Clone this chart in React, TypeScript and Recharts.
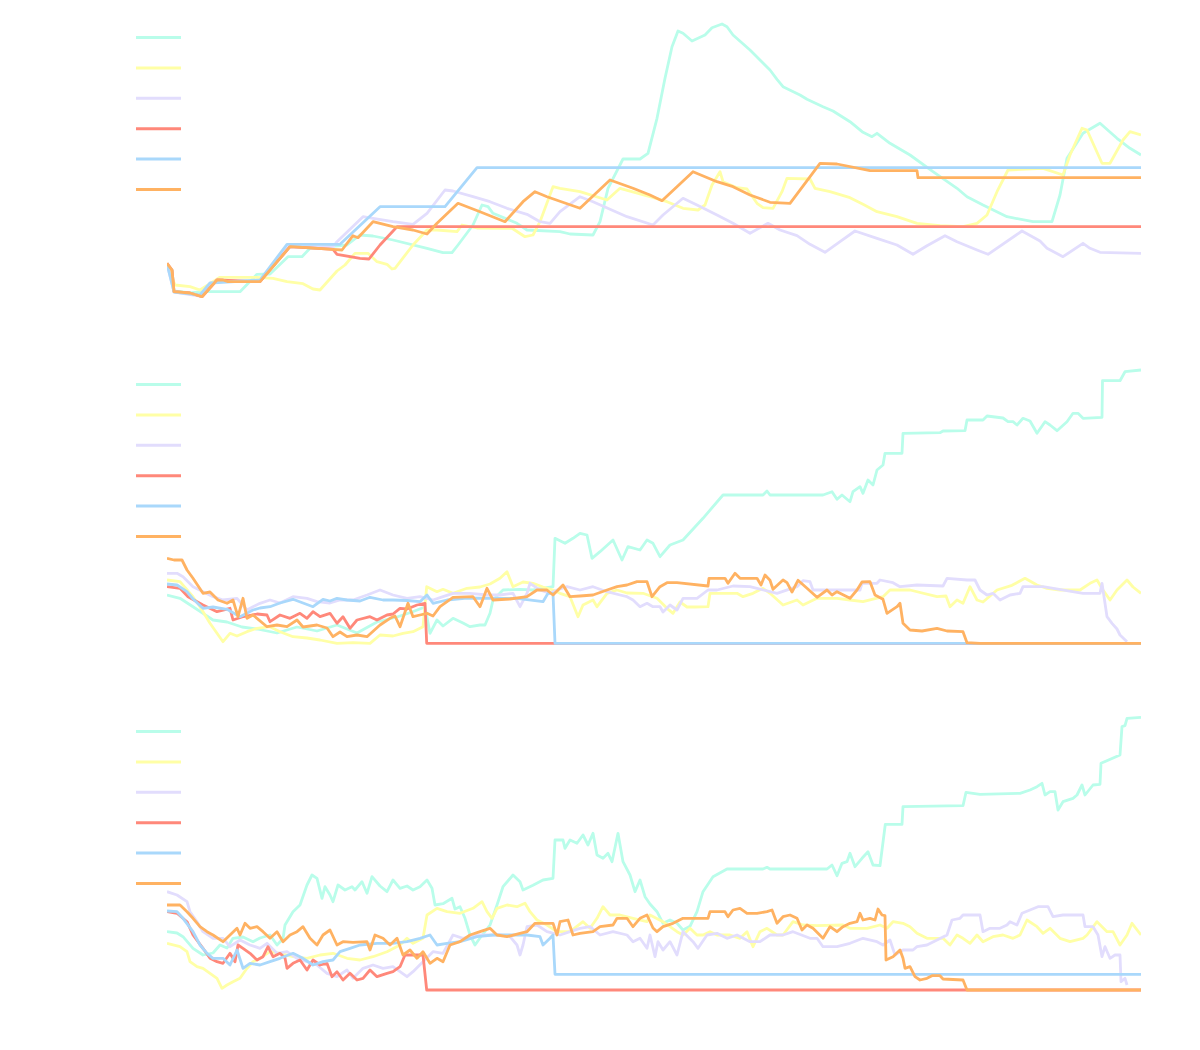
import React from "react";
import { LineChart, Line, XAxis, YAxis, Legend } from "recharts";

type Pt = [number, number];

const seriesNames = ["Series A", "Series B", "Series C", "Series D", "Series E", "Series F"];
const seriesColors = ["#b9fdea", "#ffffa6", "#e2ddfd", "#ff887a", "#a9d8fb", "#ffb262"];
const stepDomain: [number, number] = [0, 974];
const valueDomain: [number, number] = [0, 280];

// ---------- Panel 1 ----------
const p1Cyan: Pt[] = [[0,35],[5,30],[7,9],[23,7],[36,8.3],[46,8.3],[73,8.3],[90,25.7],[103,26],[121,43.3],[135,43.3],[143,51.7],[180,55],[193,65],[206,64],[226,60],[260,51.7],[276,47.3],[285,47.3],[291,55],[306,75],[315,95],[321,93.3],[326,86.7],[350,76.7],[360,70],[393,68.3],[403,66],[426,65],[433,78.3],[441,111.7],[456,141],[473,141],[481,146.7],[490,181.7],[498,221.7],[505,253.3],[511,269],[516,266.7],[525,259],[538,265],[545,272.3],[555,276],[560,273.3],[566,265],[583,250],[603,230],[610,220.7],[616,213.3],[633,205],[640,200.7],[656,193.3],[666,189],[683,178.3],[696,167.7],[705,163.3],[710,166.7],[723,156.7],[743,145],[766,128.3],[790,111.7],[800,103.3],[816,95],[840,83.3],[866,78.3],[885,78.3],[893,105],[900,141.7],[916,166.7],[933,176.7],[950,161.7],[963,151.7],[974,145]];
const p1Yellow: Pt[] = [[0,35],[8,15],[23,13.3],[33,10],[53,22.7],[90,22.7],[106,21.7],[120,18.3],[136,16.3],[146,11],[153,10],[170,29],[178,35],[188,46.7],[201,46.7],[210,38.3],[220,35.7],[225,31],[228,31.7],[246,55],[260,70],[270,70],[290,68.3],[295,75],[310,72],[345,71.7],[358,63.3],[366,65],[373,78.3],[386,113.3],[393,111.7],[413,108.3],[440,100],[453,111.7],[483,103.3],[500,98.3],[516,91.7],[531,90],[538,95],[545,115],[553,128.3],[556,118.3],[570,112.3],[580,111],[590,96.7],[596,92.3],[606,91.7],[615,108.3],[620,121.7],[643,121],[648,111.7],[663,108.3],[683,102.3],[696,95.7],[710,88.3],[730,83.3],[750,76.7],[773,74.3],[796,73.3],[810,76.7],[820,85],[830,108.3],[841,130],[876,131.7],[896,125],[903,145],[915,171.7],[920,170],[935,136.7],[943,136.7],[956,160],[963,168.3],[974,165]];
const p1Lavender: Pt[] = [[0,36],[7,8],[33,4],[50,20],[93,18.5],[120,53],[166,53],[170,58.3],[196,83.3],[206,81.7],[226,78.3],[246,75.7],[260,86.7],[278,110],[286,109],[306,103.3],[323,98.3],[340,91.7],[360,85.7],[373,78.3],[383,76.7],[393,88.3],[413,103.3],[426,98.3],[460,83.3],[486,75],[496,85],[516,101.7],[530,95],[550,85],[566,76.7],[583,66.7],[601,76.7],[613,70],[630,64.3],[643,55.7],[658,47.7],[673,58.3],[688,69],[710,61.7],[730,55],[746,45.7],[760,54.3],[778,64.3],[790,58.3],[810,50],[821,45.7],[855,69],[873,59],[880,51.7],[896,43.3],[916,56.7],[923,51.7],[933,47.7],[974,46.7]];
const p1Red: Pt[] = [[0,36.7],[5,30],[7,8.3],[23,7],[35,3.3],[50,20],[93,18.3],[123,53.3],[166,50.7],[170,45.7],[193,41.7],[202,41],[213,55],[230,73.3],[974,73.3]];
const p1Blue: Pt[] = [[0,36],[7,8],[33,5],[43,17],[93,20],[120,55.7],[173,55.7],[213,93.3],[278,93.3],[310,132.3],[974,132.3]];
const p1Orange: Pt[] = [[0,36.7],[5,30],[7,8.3],[23,7],[35,3.3],[50,20],[56,20],[61,18.3],[93,18.3],[123,53.3],[140,52.3],[166,50.7],[175,50],[186,64.3],[191,62.3],[206,78.3],[226,73.3],[246,70],[260,66],[270,76.7],[291,96.7],[313,88.3],[338,78.3],[356,98.3],[368,108.3],[380,103.3],[413,91.7],[443,120],[466,111.7],[483,105],[495,99.3],[526,128.3],[550,118.3],[566,113.3],[583,105],[603,97.7],[623,96.7],[653,136.7],[670,136],[703,129.3],[750,129.3],[751,122.3],[974,122.3]];

// ---------- Panel 2 ----------
const p2Cyan: Pt[] = [[0,52],[13,48.7],[26,40.3],[36,33.7],[46,27],[60,25],[75,20],[90,18],[110,14],[130,20],[150,16],[170,22],[190,14],[210,25],[230,30],[245,35],[258,40],[263,13.7],[270,27],[276,21],[286,28.7],[296,24],[303,20.3],[313,22],[318,22],[323,33.7],[326,47],[336,57],[353,57.7],[366,57],[386,60.3],[388,108.7],[398,103.7],[406,108.7],[413,113.7],[420,112],[425,88.7],[433,95.3],[446,107],[455,87],[461,100.3],[473,97],[480,107],[486,103.7],[493,90.3],[503,102],[516,107],[536,128.7],[556,152],[596,152],[600,156],[603,152],[656,152],[665,155.3],[670,147.7],[675,152],[683,145.3],[686,155.3],[693,160.3],[696,153.7],[701,167],[706,162],[710,177],[716,182],[718,193.7],[735,193.7],[736,213.7],[773,214.3],[776,216],[798,216.3],[800,227],[816,227],[820,231],[836,229],[841,225.3],[846,225.3],[850,222],[856,228.7],[863,226],[870,213.7],[878,225.3],[883,222],[890,216.3],[900,225.3],[906,233.7],[911,233.7],[916,228.7],[935,229.7],[935.5,266.3],[953,266.3],[958,275.3],[974,277]];
const p2Yellow: Pt[] = [[0,67],[13,65.3],[26,50.3],[33,40.3],[43,23.7],[50,13.7],[56,5.3],[63,13.7],[70,11],[80,15.3],[90,18.7],[103,20.3],[113,15.3],[126,10.3],[140,9],[153,7],[170,3.7],[186,4.3],[203,3.7],[213,12],[226,11],[236,13.7],[246,15.3],[256,20.3],[259.7,60.3],[270,55.3],[276,57.7],[286,53.7],[300,58.7],[313,60],[323,63],[333,68.7],[340,75.3],[346,60.3],[356,65],[366,63.7],[376,60],[386,57],[393,53.7],[403,50.3],[411,30.3],[416,42],[426,47],[430,40.3],[440,53.7],[450,57],[460,54],[476,53.7],[490,48.7],[500,38.7],[506,33.7],[513,45],[520,40],[528,40],[541,40.3],[543,53.7],[570,53.7],[576,50.3],[586,53.7],[596,58.7],[603,53.7],[616,42],[630,47],[636,42],[650,48.7],[670,48.7],[683,47],[696,45.3],[716,50.3],[723,57],[743,57],[770,50.3],[779,51],[783,40.3],[790,47],[796,43.7],[803,60.3],[810,47],[816,45],[830,57],[845,61.7],[858,68.7],[870,62],[880,58.7],[893,57],[913,57],[923,63.7],[930,67],[936,57],[943,47],[950,57],[960,67],[966,60],[974,53.7]];
const p2Lavender: Pt[] = [[0,73.7],[10,73.7],[16,70.3],[26,60.3],[36,55.3],[46,50.3],[56,47],[70,48.7],[80,37],[86,40.3],[93,43.7],[103,47],[113,44],[126,50.3],[140,48.7],[150,45.3],[163,44],[173,47],[186,47],[200,52],[213,57],[226,52],[240,48.7],[253,50.3],[266,47],[276,50.3],[286,53.7],[303,53.7],[320,52],[333,52],[346,53.7],[353,40.3],[360,53.7],[363,63.7],[373,57],[383,53.7],[390,57],[400,60.3],[413,57],[426,60.3],[440,55.3],[453,52],[460,50.3],[466,47],[473,40.3],[480,43.7],[486,40.3],[493,40.3],[496,35],[503,42],[510,37],[516,48.7],[530,48.7],[541,57],[550,57],[566,61],[583,60.3],[610,53.7],[630,60.3],[636,66.3],[643,65.3],[646,57],[693,57],[695,63.7],[710,63.7],[713,67],[726,64.3],[733,60.3],[750,62],[776,61],[780,68.7],[800,67],[808,67],[813,57],[820,52],[826,53.7],[833,47],[843,52],[853,53.7],[856,60.3],[876,60.3],[916,53.7],[933,53.7],[935,63.7],[940,30.3],[945,23.7],[950,18],[953,12],[960,5.3]];
const p2Red: Pt[] = [[0,60.3],[13,58.7],[21,50.3],[36,42],[50,35.3],[63,38.7],[66,27],[75,30],[90,33],[100,32],[103,25.3],[113,32],[123,28.7],[133,33.7],[140,28.7],[146,35.3],[153,30.3],[163,33.7],[170,23.7],[176,30.3],[183,18.7],[190,27],[203,30.3],[210,27],[220,32],[226,33],[233,38.7],[240,38],[250,42],[258,43.7],[259.7,3.7],[974,3.7]];
const p2Blue: Pt[] = [[0,63],[10,62],[20,55.3],[26,48],[36,38.7],[46,40],[60,37.7],[73,30.3],[86,37],[93,39],[103,40.3],[113,44],[126,47.7],[136,44],[146,40.3],[156,47.7],[163,46],[170,48.7],[180,47],[193,46],[203,49.7],[216,47],[226,47],[240,46.5],[253,45.3],[260,52],[266,43.7],[280,47],[300,49],[326,48.7],[350,48.7],[376,45.3],[381,53.7],[386,53.7],[388,3.7],[974,3.7]];
const p2Orange: Pt[] = [[0,88.7],[7,87],[15,87],[20,77],[26,68.7],[36,53.7],[43,55],[51,47],[60,43.7],[66,47],[71,30.3],[76,48.7],[80,28.7],[86,32],[100,20.3],[110,22],[120,20.3],[130,27],[136,20],[150,22],[160,19],[166,10.3],[173,15],[180,10.3],[190,12],[200,10.3],[213,22],[223,28.7],[228,31],[233,20.3],[241,43.7],[246,30.3],[253,32],[260,33.7],[266,31],[273,40.3],[286,49.7],[306,50.3],[313,40.3],[320,58.7],[326,47],[343,48],[360,50.3],[370,57],[380,57],[386,52],[396,62],[403,50.3],[413,51],[426,52],[440,57],[450,60.3],[460,62],[470,65.3],[480,65.3],[485,50.3],[493,60.3],[500,64.3],[510,64.3],[541,61],[542,68.7],[558,68.7],[561,63.7],[568,73.7],[573,68.7],[590,68.7],[594,62],[598,72],[603,66.7],[606,57.7],[616,67],[620,64.3],[625,55],[631,66.7],[640,58.7],[645,54.3],[650,49.7],[660,57],[665,52],[670,55.3],[683,48.7],[690,57],[695,65],[703,65.3],[708,52],[716,47.7],[720,33.7],[730,40.3],[733,43.7],[736,23.7],[743,17],[755,16],[770,18.7],[780,16],[796,15.3],[800,4.3],[813,3.7],[974,3.7]];

// ---------- Panel 3 ----------
const p3Cyan: Pt[] = [[0,62.3],[10,61],[16,57.3],[26,45.7],[36,39],[46,41],[53,49],[60,46],[66,55.7],[76,57],[86,52.3],[93,56],[103,59],[110,49],[116,55.3],[118,69],[126,82.3],[133,89],[140,109],[145,119],[150,115.7],[155,95.7],[158,107.3],[163,99],[166,92.3],[171,109],[178,104],[185,107.3],[188,104],[195,112.3],[200,100.7],[205,117.3],[213,108],[220,102.3],[226,114],[233,105.7],[240,108],[246,104],[253,107.3],[260,114],[265,105.7],[268,89],[276,90.3],[285,95.7],[288,85],[293,87.3],[298,75.7],[303,59],[308,49],[313,56],[323,69],[330,89],[336,107.3],[346,119],[353,112.3],[356,104],[366,108.7],[376,114],[386,115.7],[388,154],[396,154],[398,145.7],[403,154],[410,150.7],[416,159],[421,149],[426,160.7],[430,139],[436,135.7],[441,140.7],[445,132.3],[451,160.7],[456,132.3],[463,119],[468,102.3],[473,114],[478,97.3],[483,90],[490,82.3],[496,70.7],[503,74],[510,70.7],[516,64],[523,67.7],[530,82.3],[536,102.3],[546,117.3],[560,125],[596,125],[600,126.7],[603,125],[660,125],[665,129],[670,118.3],[675,130.7],[680,132.3],[683,140.7],[688,127.3],[695,135.7],[701,142.3],[706,129],[713,128.3],[718.3,169.7],[735,169.7],[736,187.3],[796,188.3],[799,201.7],[813,199.7],[853,200.7],[863,204],[870,207.3],[875,210.7],[878,199],[883,202.3],[888,202.3],[891,184],[896,192.3],[906,195.7],[910,199],[915,209],[918,199],[926,209],[933,209.7],[934,230.7],[953,239],[955,267.3],[958,268.3],[960,275.7],[974,276.7]];
const p3Yellow: Pt[] = [[0,50.7],[13,47.3],[20,42.3],[23,32.3],[30,27.3],[36,25.7],[43,20.7],[50,15.7],[55,5.7],[60,9],[66,12.3],[73,15.7],[80,25.7],[86,32.3],[93,35.7],[103,42.3],[113,40.7],[126,37.3],[140,35.7],[153,39],[166,40.7],[180,35.7],[193,34],[206,37.3],[220,42.3],[233,49],[240,55.7],[246,50.7],[256,55.7],[260,79],[270,85.7],[280,82.3],[293,80.7],[306,85.7],[315,92.3],[320,82.3],[325,75.7],[330,85.7],[340,89],[350,87.3],[358,90.7],[363,82.3],[370,74],[380,69],[390,62.3],[403,62.3],[416,72.3],[423,65.7],[430,75.7],[436,87.3],[443,79],[453,79],[466,75.7],[480,72.3],[483,79],[496,72.3],[510,62.3],[516,59],[523,65.7],[530,59],[536,59],[543,62.3],[550,59],[563,59],[573,55.7],[580,62.3],[586,47.3],[593,62.3],[600,65.7],[610,59],[616,59],[626,72.3],[636,69],[650,68.3],[676,69],[683,65.7],[700,65.7],[713,69],[720,65.7],[726,72.3],[736,70.7],[743,67.3],[750,60.7],[760,55.7],[776,55.7],[783,49],[790,59],[796,55.7],[803,50.7],[810,59],[816,52.3],[826,57.3],[836,59],[846,55.7],[853,59],[860,74],[870,67.3],[876,60.7],[883,65.7],[893,55.7],[903,52.3],[916,55.7],[920,59],[930,72.3],[940,62.3],[946,62.3],[953,49],[960,59],[965,70.7],[974,59]];
const p3Lavender: Pt[] = [[0,102.3],[10,99],[20,92.3],[23,82.3],[30,72.3],[36,62.3],[46,55.7],[56,55.7],[63,47.3],[73,54],[83,49],[93,45.7],[100,50.7],[110,40.7],[120,42.3],[130,35.7],[140,32.3],[150,29],[160,20.7],[170,17.3],[180,24],[186,15.7],[196,25.7],[206,29],[216,25.7],[226,27.3],[240,17.3],[246,22.3],[256,32.3],[266,42.3],[276,40.7],[286,59],[296,55.7],[310,59],[333,59],[343,57.3],[350,49],[353,39],[356,49],[360,67.3],[370,69],[380,62.3],[393,59],[403,62.3],[413,65.7],[423,67.3],[433,59],[446,62.3],[460,59],[466,52.3],[473,55.7],[480,45.7],[483,59],[488,37.3],[491,52.3],[496,44],[503,52.3],[510,39],[516,62.3],[526,52.3],[531,45.7],[540,59],[550,60.7],[560,55.7],[570,59],[583,52.3],[593,52.3],[603,59],[616,59],[626,62.3],[643,55.7],[650,55.7],[656,47.3],[670,47.3],[683,50.7],[696,55.7],[710,52.3],[716,49],[723,54],[728,39],[736,44],[746,44],[750,47.3],[760,49],[770,54],[780,59],[785,74],[793,75.7],[796,79],[813,79],[816,62.3],[823,65.7],[833,65.7],[840,69],[843,72.3],[850,69],[855,80.7],[863,84],[871,87.3],[881,87.3],[886,77.3],[896,79],[916,79],[918,67.3],[926,67.3],[931,59],[935,37.3],[938,47.3],[943,35.7],[948,39],[953,39],[954,12.3],[958,15.7],[960,9]];
const p3Red: Pt[] = [[0,82.3],[10,80.7],[20,72.3],[26,59],[36,45.7],[43,35.7],[50,32.3],[56,30.7],[63,40.7],[68,32.3],[71,49],[76,45.7],[83,40.7],[90,34],[96,37.3],[101,47.3],[106,37.3],[113,40.7],[118,36],[120,25.7],[126,30.7],[133,34],[140,24],[146,34],[153,29],[160,30.7],[165,17.3],[170,22.3],[176,14],[183,20.7],[190,14],[196,15.7],[203,24],[210,17.3],[220,20.7],[226,22.3],[233,27.3],[238,39],[256,39],[259.7,4],[974,4]];
const p3Blue: Pt[] = [[0,83],[10,82.3],[16,75.7],[26,62.3],[33,49],[40,40.7],[46,35.7],[56,35.7],[63,29],[70,44],[76,25.7],[83,30.7],[93,29],[103,32.3],[113,35.7],[126,40.7],[136,35.7],[146,29],[156,32.3],[166,34],[173,42.3],[183,45.7],[193,49],[210,50.7],[226,50.7],[240,52.3],[253,55.7],[263,59],[270,49],[280,50.7],[293,52.3],[310,57.3],[326,59],[343,59],[360,59],[373,57.3],[376,49],[383,55.7],[386,59],[388,19.7],[974,19.7]];
const p3Orange: Pt[] = [[0,89],[13,89],[20,82.3],[26,75.7],[33,67.3],[40,62.3],[46,59],[56,52.3],[63,59],[70,65.7],[73,59],[78,70.7],[83,65.7],[90,67.3],[96,62.3],[103,55.7],[110,62.3],[116,52.3],[123,59],[130,62.3],[136,67.3],[143,55.7],[150,49],[156,59],[163,64],[170,49],[176,52.3],[186,51.7],[200,52.3],[203,44],[208,59],[216,55.7],[223,49],[230,55.7],[236,39],[243,44],[250,35.7],[256,42.3],[263,30.7],[270,35.7],[276,32.3],[283,49],[293,52.3],[303,59],[313,62.3],[323,65.7],[330,59],[340,57.3],[353,60.7],[360,62.3],[368,70.7],[386,70.7],[390,59],[393,72.3],[401,74],[406,59],[413,60.7],[426,62.3],[433,67.3],[446,69],[450,75.7],[460,75.7],[466,67.3],[473,75.7],[480,79],[486,66],[490,62.3],[496,67.3],[506,70.7],[516,75.7],[541,75.7],[543,82.3],[558,82.3],[561,77.3],[566,84],[573,85.7],[580,80.7],[590,80.7],[600,82.3],[605,84],[610,70.7],[616,77.3],[623,79],[630,75.7],[635,64],[640,69],[646,65.7],[656,55.7],[663,67.3],[670,62.3],[676,67.3],[683,70.7],[690,72.3],[693,80.7],[696,74],[703,75.7],[708,74],[711,85],[715,79],[718,78.3],[719,34],[726,37.3],[733,44],[736,35.7],[738,25.7],[743,27.3],[748,17.3],[753,14],[760,15.7],[765,18.3],[773,18.3],[776,15],[796,14],[800,4],[974,4]];

const panels: Pt[][][] = [
  [p1Cyan, p1Yellow, p1Lavender, p1Red, p1Blue, p1Orange],
  [p2Cyan, p2Yellow, p2Lavender, p2Red, p2Blue, p2Orange],
  [p3Cyan, p3Yellow, p3Lavender, p3Red, p3Blue, p3Orange],
];

const toRows = (pts: Pt[]) => pts.map(([x, y]) => ({ x, y }));

function LegendLines(props: any) {
  const payload: any[] = props.payload || [];
  const gap = 30.4;
  return (
    <svg width={50} height={gap * payload.length}>
      {payload.map((p, i) => (
        <line
          key={i}
          x1={0}
          x2={45}
          y1={1.5 + i * gap}
          y2={1.5 + i * gap}
          stroke={p.color}
          strokeWidth={3}
        />
      ))}
    </svg>
  );
}

function Panel({ series }: { series: Pt[][] }) {
  return (
    <LineChart width={1184} height={347} margin={{ top: 12, right: 51, bottom: 55, left: 159 }}>
      <XAxis type="number" dataKey="x" domain={stepDomain} hide allowDataOverflow />
      <YAxis type="number" domain={valueDomain} hide allowDataOverflow />
      <Legend
        layout="vertical"
        align="center"
        verticalAlign="middle"
        content={(p: any) => <LegendLines {...p} />}
        wrapperStyle={{ left: 128, top: 27.5, width: 50, height: 185 }}
      />
      {series.map((pts, i) => (
        <Line
          key={seriesNames[i]}
          name={seriesNames[i]}
          data={toRows(pts)}
          dataKey="y"
          type="linear"
          stroke={seriesColors[i]}
          strokeWidth={2.8}
          strokeLinejoin="round"
          dot={false}
          activeDot={false}
          isAnimationActive={false}
        />
      ))}
    </LineChart>
  );
}

export default function App() {
  return (
    <div style={{ width: 1184 }}>
      {panels.map((s, i) => (
        <Panel key={i} series={s} />
      ))}
    </div>
  );
}
